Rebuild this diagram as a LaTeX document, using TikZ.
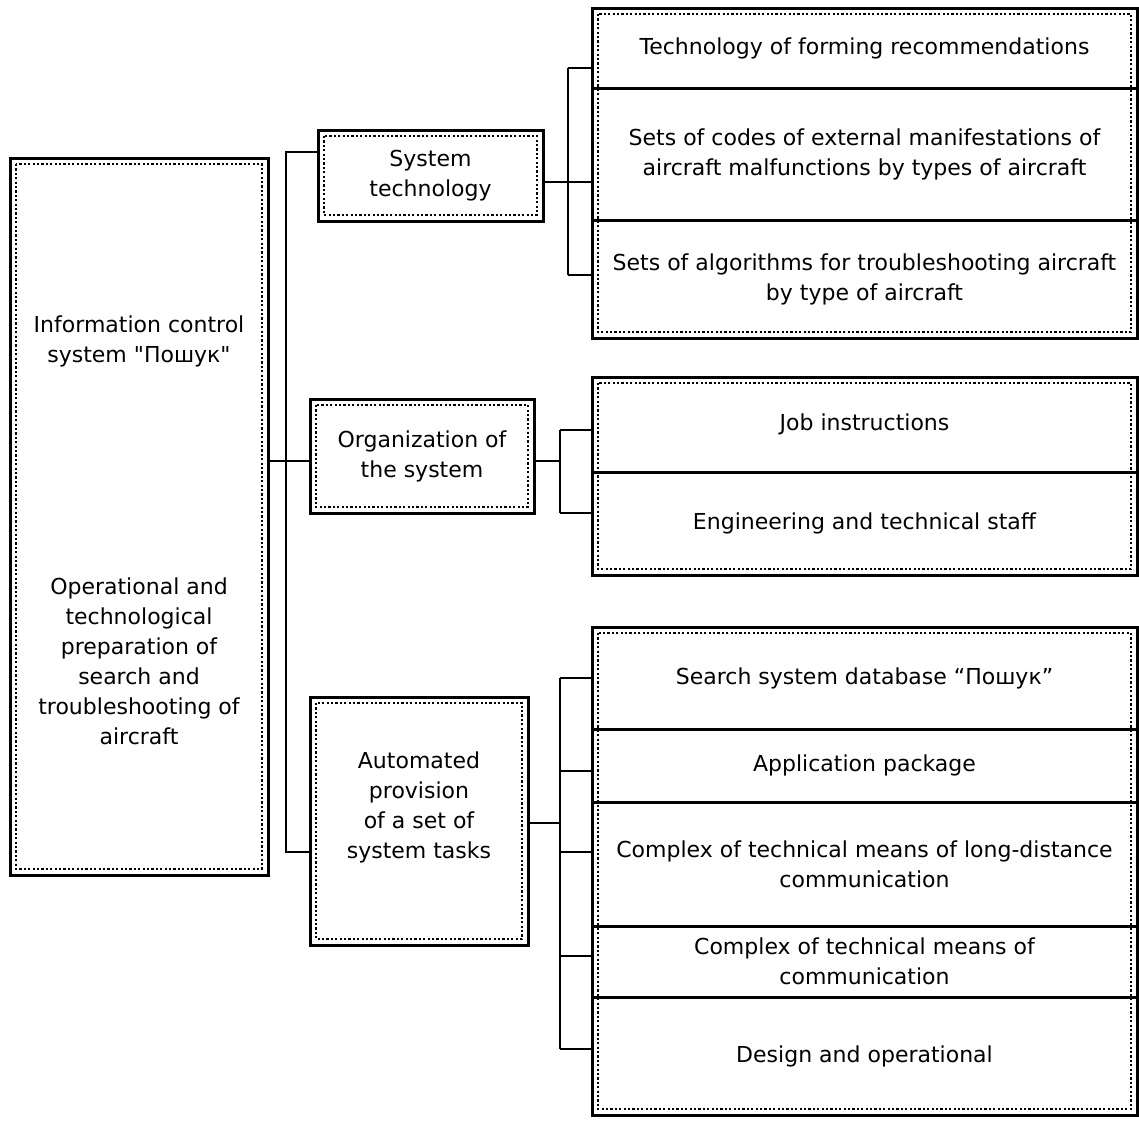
\documentclass[tikz,border=0pt]{standalone}
\usepackage{fontspec}
\newfontfamily\dejavu{DejaVu Sans}
\usetikzlibrary{fit}
\tikzset{>=latex}
\tikzset{
  frame/.style={draw, line width=1.5pt, inner sep=0pt, outer sep=0pt, align=center,
    path picture={\draw[line width=1.3pt, dash pattern=on 1.1pt off 1.1pt]
      ([shift={(3pt,-3pt)}]path picture bounding box.north west) rectangle
      ([shift={(-3pt,3pt)}]path picture bounding box.south east);}},
  item/.style={draw, line width=1.5pt, inner sep=0pt, outer sep=0pt,
    minimum width=272.5pt, align=center},
  link/.style={line width=1.2pt},
}

\begin{document}
\begin{tikzpicture}[x=0.5pt, y=-0.5pt, font=\dejavu\fontsize{11}{15}\selectfont]
\useasboundingbox (0,0) rectangle (1139,1120);

% left column
\node[frame, minimum width=129pt, minimum height=358.5pt] (icsys) at (139,516.5) {};
\node[align=center] (ictitle) at (139,341) {Information control\\system "Пошук"};
\node[align=center] (icprep) at (139,661) {Operational and\\technological\\preparation of\\search and\\troubleshooting of\\aircraft};

% middle column
\node[frame, minimum width=112.5pt, minimum height=45.5pt] (systech) at (430.5,175.5) {System\\technology};
\node[frame, minimum width=112pt, minimum height=57pt] (org) at (422,456) {Organization of\\the system};
\node[frame, minimum width=109pt, minimum height=124pt] (auto) at (419,821) {};
\node[align=center] (autotext) at (419,807) {Automated\\provision\\of a set of\\system tasks};

% right column
\node[item, minimum height=40pt] (rec) at (864.5,48) {Technology of forming recommendations};
\node[item, minimum height=66pt] (codes) at (864.5,154) {Sets of codes of external manifestations of\\aircraft malfunctions by types of aircraft};
\node[item, minimum height=59pt] (algo) at (864.5,279) {Sets of algorithms for troubleshooting aircraft\\by type of aircraft};
\node[frame, fit=(rec)(algo)] (grp1) {};

\node[item, minimum height=47.5pt] (jobs) at (864.5,424.5) {Job instructions};
\node[item, minimum height=51.5pt] (staff) at (864.5,523.5) {Engineering and technical staff};
\node[frame, fit=(jobs)(staff)] (grp2) {};

\node[item, minimum height=51pt] (db) at (864.5,678) {Search system database “Пошук”};
\node[item, minimum height=36.5pt] (app) at (864.5,765.5) {Application package};
\node[item, minimum height=62pt] (far) at (864.5,864) {Complex of technical means of long-distance\\communication};
\node[item, minimum height=35.5pt] (comm) at (864.5,961.5) {Complex of technical means of\\communication};
\node[item, minimum height=59pt] (design) at (864.5,1056) {Design and operational};
\node[frame, fit=(db)(design)] (grp3) {};

% connectors
\coordinate (trunk) at (286,461);
\draw[link] (icsys.east |- trunk) -- (org.west |- trunk);
\draw[link] (systech.west |- 0,152) -| (trunk) |- (auto.west |- 0,852);

\coordinate (bus1) at (568,182);
\draw[link] (systech.east |- bus1) -- (bus1);
\draw[link] (bus1 |- 0,68) -- (bus1 |- 0,275);
\foreach \n/\y in {rec/68, codes/182, algo/275}
  \draw[link] (bus1 |- 0,\y) -- (\n.west |- 0,\y);

\coordinate (bus2) at (560,461);
\draw[link] (org.east |- bus2) -- (bus2);
\draw[link] (bus2 |- 0,430) -- (bus2 |- 0,513);
\foreach \n/\y in {jobs/430, staff/513}
  \draw[link] (bus2 |- 0,\y) -- (\n.west |- 0,\y);

\coordinate (bus3) at (560,823);
\draw[link] (auto.east |- bus3) -- (bus3);
\draw[link] (bus3 |- 0,678) -- (bus3 |- 0,1049);
\foreach \n/\y in {db/678, app/771, far/852, comm/956, design/1049}
  \draw[link] (bus3 |- 0,\y) -- (\n.west |- 0,\y);
\end{tikzpicture}
\end{document}
